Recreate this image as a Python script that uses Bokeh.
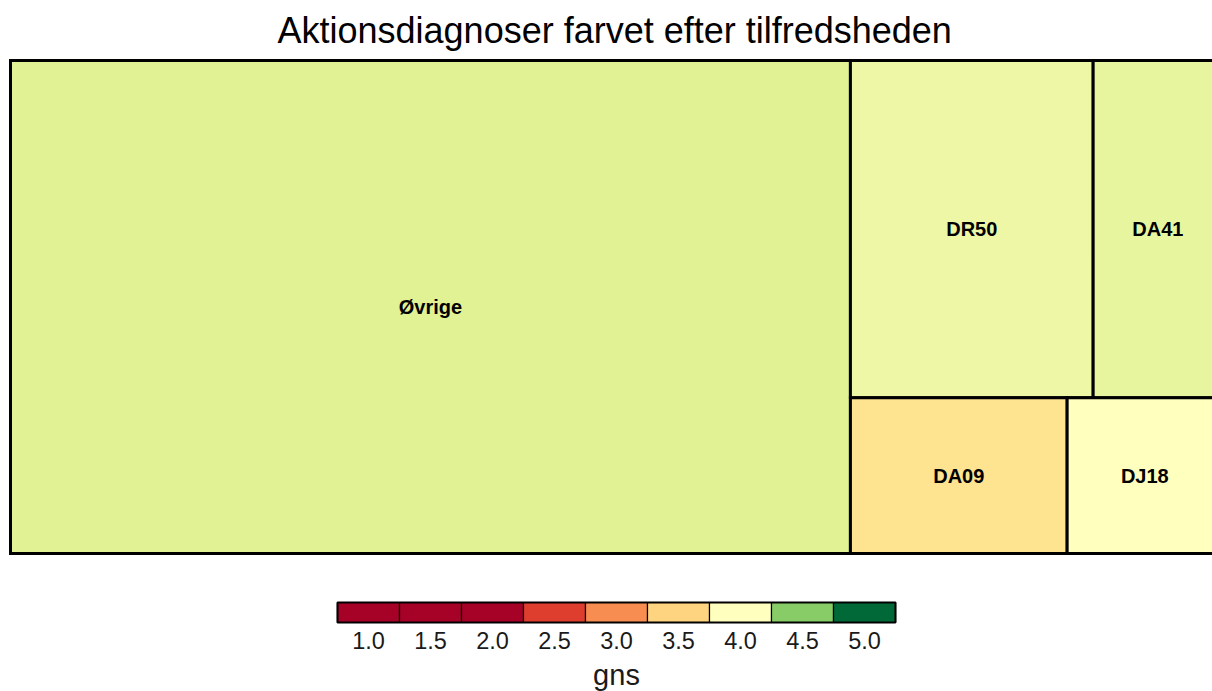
from bokeh.plotting import figure
from bokeh.models import ColumnDataSource, Range1d, LinearColorMapper
from bokeh.transform import transform
from bokeh.core.properties import value
from bokeh.embed import file_html
from bokeh.resources import INLINE

# ---- data ----
diagnoses = ["Øvrige", "DR50", "DA41", "DA09", "DJ18"]
counts = [1386, 274, 146, 113, 81]
gns = [4.17, 4.10, 4.13, 3.64, 3.99]

legend_values = [1.0, 1.5, 2.0, 2.5, 3.0, 3.5, 4.0, 4.5, 5.0]
legend_labels = ["1.0", "1.5", "2.0", "2.5", "3.0", "3.5", "4.0", "4.5", "5.0"]

title_text = "Aktionsdiagnoser farvet efter tilfredsheden"
legend_title = "gns"

# ---- colour scale (RdYlGn, midpoint 4) ----
stop_vals = [2.0, 2.4, 2.8, 3.2, 3.6, 4.0, 4.2, 4.4, 4.6, 4.8, 5.0]
stop_cols = ["#a50026", "#d73027", "#f46d43", "#fdae61", "#fee08b", "#ffffbf",
             "#d9ef8b", "#a6d96a", "#66bd63", "#1a9850", "#006837"]


def hex2rgb(h):
    return [int(h[i:i + 2], 16) for i in (1, 3, 5)]


def interp_color(v):
    if v <= stop_vals[0]:
        return stop_cols[0]
    for k in range(len(stop_vals) - 1):
        a, b = stop_vals[k], stop_vals[k + 1]
        if v <= b:
            t = (v - a) / (b - a)
            c1, c2 = hex2rgb(stop_cols[k]), hex2rgb(stop_cols[k + 1])
            c = [round(c1[j] + t * (c2[j] - c1[j])) for j in range(3)]
            return "#%02x%02x%02x" % tuple(c)
    return stop_cols[-1]


LOW, HIGH, N = 2.0, 5.0, 300
fine_palette = [interp_color(LOW + (i + 0.5) * (HIGH - LOW) / N) for i in range(N)]
mapper = LinearColorMapper(palette=fine_palette, low=LOW, high=HIGH)

# ---- pivot-by-size treemap layout ----
TW, TH = 1212.0, 493.0


def pivot_layout(items, x, y, w, h, out):
    if not items:
        return
    if len(items) == 1:
        out[items[0][0]] = (x, y, w, h)
        return
    total = sum(a for _, a in items)
    scale = w * h / total
    pi = max(range(len(items)), key=lambda i: items[i][1])
    L1 = items[:pi]
    P = items[pi]
    rest = items[pi + 1:]
    a1 = sum(a for _, a in L1)
    best = None
    for k in range(len(rest) + 1):
        L2 = rest[:k]
        aP = P[1]
        a2 = sum(a for _, a in L2)
        if w >= h:
            wc = (aP + a2) * scale / h
            hp = aP * scale / wc if wc > 0 else 0
            ar = max(wc / hp, hp / wc) if hp > 0 and wc > 0 else 1e9
        else:
            hr = (aP + a2) * scale / w
            wp = aP * scale / hr if hr > 0 else 0
            ar = max(wp / hr, hr / wp) if hr > 0 and wp > 0 else 1e9
        if best is None or ar < best[0]:
            best = (ar, k)
    k = best[1]
    L2, L3 = rest[:k], rest[k:]
    aP = P[1]
    a2 = sum(a for _, a in L2)
    if w >= h:
        w1 = a1 * scale / h
        pivot_layout(L1, x, y, w1, h, out)
        wc = (aP + a2) * scale / h
        hp = aP * scale / wc
        out[P[0]] = (x + w1, y, wc, hp)
        pivot_layout(L2, x + w1, y + hp, wc, h - hp, out)
        pivot_layout(L3, x + w1 + wc, y, w - w1 - wc, h, out)
    else:
        h1 = a1 * scale / w
        pivot_layout(L1, x, y, w, h1, out)
        hr = (aP + a2) * scale / w
        wp = aP * scale / hr
        out[P[0]] = (x, y + h1, wp, hr)
        pivot_layout(L2, x + wp, y + h1, w - wp, hr, out)
        pivot_layout(L3, x, y + h1 + hr, w, h - h1 - hr, out)


rects = {}
pivot_layout(list(zip(diagnoses, counts)), 0.0, 0.0, TW, TH, rects)

src = ColumnDataSource(dict(
    name=diagnoses,
    gns=gns,
    left=[rects[d][0] for d in diagnoses],
    right=[rects[d][0] + rects[d][2] for d in diagnoses],
    top=[rects[d][1] for d in diagnoses],
    bottom=[rects[d][1] + rects[d][3] for d in diagnoses],
    cx=[rects[d][0] + rects[d][2] / 2 for d in diagnoses],
    cy=[rects[d][1] + rects[d][3] / 2 for d in diagnoses],
))

# ---- figure ----
W, H = 1212, 691
TOP = 56
p = figure(width=W, height=H, output_backend="svg", toolbar_location=None,
           x_axis_location=None, y_axis_location=None,
           x_range=Range1d(-10, W - 10), y_range=Range1d(H - 60, TOP - 60),
           min_border_left=0, min_border_right=0, min_border_top=TOP, min_border_bottom=0,
           title=title_text)
p.title.align = "left"
p.title.offset = 277
p.title.text_font = "Liberation Sans"
p.title.text_font_size = "36px"
p.title.text_font_style = "normal"
p.title.text_color = "#000000"
p.title.standoff = 11
p.xgrid.visible = False
p.ygrid.visible = False
p.outline_line_color = None
p.background_fill_color = "white"

p.quad(left="left", right="right", top="top", bottom="bottom", source=src,
       fill_color=transform("gns", mapper), line_color="black", line_width=3,
       line_join="miter")
p.text(x="cx", y="cy", text="name", source=src, text_align="center",
       text_baseline="middle", text_font=value("Liberation Sans"),
       text_font_style="bold", text_font_size="20px", text_color="black")

# ---- legend ----
BOX_W, BOX_H = 62.0, 20.0
LEG_Y = 542.0
n = len(legend_values)
leg_cx = [TW / 2 + (i - (n - 1) / 2) * BOX_W for i in range(n)]
leg_src = ColumnDataSource(dict(x=leg_cx, v=legend_values, lab=legend_labels))
p.rect(x="x", y=LEG_Y + BOX_H / 2, width=BOX_W, height=BOX_H, source=leg_src,
       fill_color=transform("v", mapper), line_color="black", line_width=1.2)
p.rect(x=TW / 2, y=LEG_Y + BOX_H / 2, width=BOX_W * n, height=BOX_H,
       fill_color=None, line_color="black", line_width=2)
p.text(x="x", y=LEG_Y + BOX_H + 17.5, text="lab", source=leg_src, text_align="center",
       text_baseline="middle", text_font=value("Liberation Sans"),
       text_font_size="23.5px", text_color="#1a1a1a")
p.text(x=[TW / 2], y=[LEG_Y + 72], text=[legend_title], text_align="center",
       text_baseline="middle", text_font=value("Liberation Sans"),
       text_font_size="29px", text_color="#1a1a1a")

open("out.html", "w").write(file_html(p, INLINE))
